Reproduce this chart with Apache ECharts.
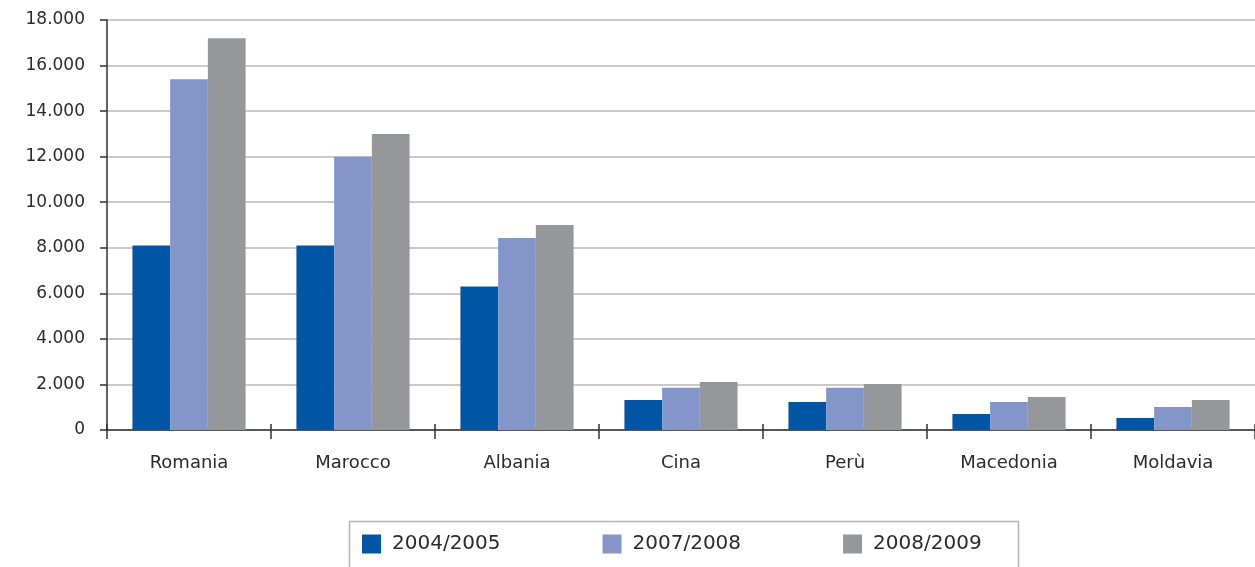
<!DOCTYPE html>
<html>
<head>
<meta charset="utf-8">
<script src="https://cdn.jsdelivr.net/npm/echarts@6/dist/echarts.min.js"></script>
<style>
  html, body { margin: 0; padding: 0; background: #fff; }
  #chart { width: 1255px; height: 567px; }
</style>
</head>
<body>
<div id="chart"></div>
<script>
var categories = ['Romania', 'Marocco', 'Albania', 'Cina', 'Perù', 'Macedonia', 'Moldavia'];
var seriesNames = ['2004/2005', '2007/2008', '2008/2009'];
var values2004 = [8100, 8100, 6300, 1320, 1230, 700, 530];
var values2007 = [15400, 12000, 8430, 1850, 1850, 1230, 1010];
var values2008 = [17200, 13000, 9000, 2110, 2020, 1450, 1320];
var colors = ['#0055a5', '#8395c9', '#96979b'];

function fmt(v) {
	// separatore delle migliaia con il punto
	return String(v).replace(/\B(?=(\d{3})+(?!\d))/g, '.');
}

var myChart = echarts.init(document.getElementById('chart'));
var font = 'DejaVu Sans';
var option = {
	animation: false,
	color: colors,
	grid: { left: 107, right: -3, top: 20, bottom: 137 },
	legend: {
		left: 362,
		top: 534,
		padding: 0,
		itemWidth: 19,
		itemHeight: 19,
		itemGap: 102,
		icon: 'rect',
		textStyle: { fontFamily: font, fontSize: 20, color: '#2b2b2b', padding: [4, 0, 0, 6] },
		data: seriesNames
	},
	graphic: [{
		type: 'rect',
		left: 347,
		top: 519,
		shape: { width: 669, height: 60 },
		style: { fill: 'none', stroke: '#b4b4b4', lineWidth: 1.5 },
		z: -1
	}],
	xAxis: [{
		type: 'category',
		data: categories,
		axisLine: { lineStyle: { color: '#333', width: 1.5 } },
		axisTick: { show: true, length: 9, lineStyle: { color: '#333', width: 1.5 } },
		axisLabel: { fontFamily: font, fontSize: 18, color: '#2b2b2b', margin: 24 }
	}, {
		type: 'category',
		data: categories,
		position: 'bottom',
		axisLine: { show: false },
		axisTick: { show: true, inside: true, length: 6, lineStyle: { color: '#333', width: 1.5 } },
		axisLabel: { show: false }
	}],
	yAxis: {
		type: 'value',
		min: 0,
		max: 18000,
		interval: 2000,
		axisLine: { show: true, lineStyle: { color: '#333', width: 1.5 } },
		axisTick: { show: true, length: 7, lineStyle: { color: '#333', width: 1.5 } },
		splitLine: { lineStyle: { color: '#b8b8b8', width: 1.5 } },
		axisLabel: { fontFamily: font, fontSize: 17, color: '#2b2b2b', margin: 22, formatter: fmt }
	},
	series: [
		{ name: seriesNames[0], type: 'bar', data: values2004, barGap: 0, barCategoryGap: '31%' },
		{ name: seriesNames[1], type: 'bar', data: values2007, barGap: 0, barCategoryGap: '31%' },
		{ name: seriesNames[2], type: 'bar', data: values2008, barGap: 0, barCategoryGap: '31%' }
	]
};
myChart.setOption(option);
</script>
</body>
</html>
